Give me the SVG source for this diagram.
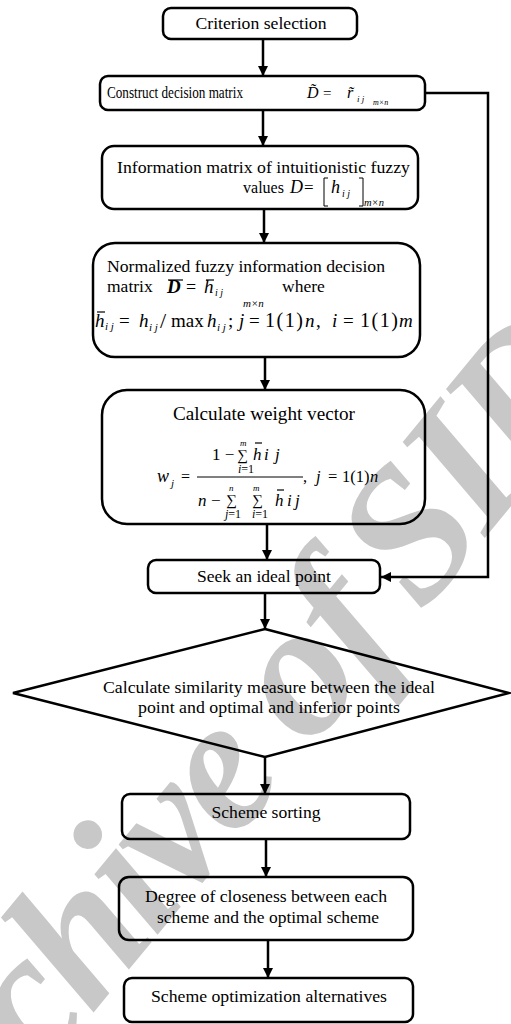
<svg xmlns="http://www.w3.org/2000/svg" width="511" height="1024" viewBox="0 0 511 1024">
<defs>
<style>
.t{font-family:"Liberation Serif","Times New Roman","DejaVu Serif",serif;fill:#000;font-size:17.5px}
.c{text-anchor:middle}
.i{font-style:italic}
.box{fill:none;stroke:#000;stroke-width:2.5}
.conn{fill:none;stroke:#000;stroke-width:2.5}
.ov{stroke:#000;stroke-width:1.2}
.br{fill:none;stroke:#000;stroke-width:1}
.wm{font-family:"Liberation Serif","Times New Roman",serif;font-weight:bold;font-style:italic;font-size:190px;letter-spacing:-6px;fill:#c8c8c8}
</style>
<marker id="ah" markerUnits="userSpaceOnUse" markerWidth="11" markerHeight="11" refX="10" refY="5" orient="auto">
<path d="M0,0 L10,5 L0,10 z" fill="#000"/>
</marker>
</defs>
<rect x="0" y="0" width="511" height="1024" fill="#fff"/>
<text class="wm" transform="translate(0,-15) rotate(2,30,990) translate(-70,1240) rotate(-52.5)">Archive of<tspan dx="30">SID</tspan></text>

<g id="connectors">
<line class="conn" x1="263" y1="39" x2="263" y2="76" marker-end="url(#ah)"/>
<line class="conn" x1="263" y1="110" x2="263" y2="146" marker-end="url(#ah)"/>
<line class="conn" x1="264" y1="209" x2="264" y2="243" marker-end="url(#ah)"/>
<line class="conn" x1="265" y1="357" x2="265" y2="390" marker-end="url(#ah)"/>
<line class="conn" x1="267" y1="524" x2="267" y2="560" marker-end="url(#ah)"/>
<line class="conn" x1="265" y1="593" x2="265" y2="629" marker-end="url(#ah)"/>
<line class="conn" x1="265" y1="757" x2="265" y2="794" marker-end="url(#ah)"/>
<line class="conn" x1="266" y1="839" x2="266" y2="877" marker-end="url(#ah)"/>
<line class="conn" x1="268" y1="940" x2="268" y2="978" marker-end="url(#ah)"/>
<polyline class="conn" points="425,93 488,93 488,577 381,577" marker-end="url(#ah)"/>
</g>

<g id="criterion">
<rect class="box" x="163" y="8" width="194" height="31" rx="8"/>
<text class="t c" x="261" y="29" textLength="131" lengthAdjust="spacingAndGlyphs">Criterion selection</text>
</g>

<g id="construct">
<rect class="box" x="100" y="76" width="325" height="34" rx="8"/>
<text class="t" x="107" y="98" style="font-size:17px" textLength="136" lengthAdjust="spacingAndGlyphs">Construct  decision matrix</text>
<text class="t i" x="307" y="98" style="font-size:16px">D&#x303;</text>
<text class="t" x="323" y="98" style="font-size:15px">=</text>
<text class="t i" x="347" y="98" style="font-size:16px">r&#x303;</text>
<text class="t i" x="357" y="102" style="font-size:9px">i j</text>
<text class="t i" x="373" y="105" style="font-size:8px">m×n</text>
</g>

<g id="info">
<rect class="box" x="102" y="146" width="316" height="63" rx="12"/>
<text class="t c" x="263.5" y="173" textLength="293" lengthAdjust="spacingAndGlyphs">Information matrix of intuitionistic fuzzy</text>
<text class="t" x="243" y="193" textLength="41" lengthAdjust="spacingAndGlyphs">values</text>
<text class="t i" x="290" y="193" style="font-size:18px">D</text>
<text class="t" x="304" y="193" style="font-size:17px">=</text>
<polyline class="br" points="328,178 324,178 324,206 328,206"/>
<text class="t i" x="331" y="193" style="font-size:18px">h</text>
<text class="t i" x="342" y="197" style="font-size:10px">i j</text>
<polyline class="br" points="359,178 363,178 363,206 359,206"/>
<text class="t i" x="364" y="206" style="font-size:10.5px">m×n</text>
</g>

<g id="normalized">
<rect class="box" x="93" y="243" width="327" height="114" rx="22"/>
<text class="t" x="107" y="272" textLength="278" lengthAdjust="spacingAndGlyphs">Normalized fuzzy information decision</text>
<text class="t" x="107" y="292">matrix</text>
<text class="t i" x="167" y="293" style="font-size:19px;font-weight:bold">D</text>
<line class="ov" x1="168" y1="280" x2="183" y2="280"/>
<text class="t" x="186" y="293" style="font-size:18px">=</text>
<text class="t i" x="204" y="293" style="font-size:19px">h</text>
<line class="ov" x1="206" y1="280" x2="214" y2="280"/>
<text class="t i" x="215" y="296" style="font-size:10px">i j</text>
<text class="t i" x="243" y="307" style="font-size:11px">m×n</text>
<text class="t" x="282" y="292">where</text>
<text class="t i" x="95" y="327" style="font-size:19px">h</text>
<line class="ov" x1="97" y1="312" x2="105" y2="312"/>
<text class="t i" x="105" y="330" style="font-size:11px">i j</text>
<text class="t" x="119" y="327" style="font-size:19px">=</text>
<text class="t i" x="139" y="327" style="font-size:19px">h</text>
<text class="t i" x="149" y="331" style="font-size:11px">i j</text>
<text class="t" x="160" y="328" style="font-size:22px">/</text>
<text class="t" x="171" y="327" style="font-size:19px">max</text>
<text class="t i" x="207" y="327" style="font-size:19px">h</text>
<text class="t i" x="217" y="331" style="font-size:11px">i j</text>
<text class="t" x="228" y="327" style="font-size:19px">;</text>
<text class="t i" x="239" y="327" style="font-size:19px">j</text>
<text class="t" x="249" y="327" style="font-size:19px">=</text>
<text class="t" x="265" y="327" style="font-size:20px;letter-spacing:1.5px">1(1)</text>
<text class="t i" x="305" y="327" style="font-size:19px">n</text>
<text class="t" x="316" y="327" style="font-size:19px">,</text>
<text class="t i" x="332" y="327" style="font-size:19px">i</text>
<text class="t" x="343" y="327" style="font-size:19px">=</text>
<text class="t" x="360" y="327" style="font-size:20px;letter-spacing:1.5px">1(1)</text>
<text class="t i" x="399" y="327" style="font-size:19px">m</text>
</g>

<g id="weight">
<rect class="box" x="102" y="390" width="323" height="134" rx="25"/>
<text class="t c" x="264" y="420" textLength="182" lengthAdjust="spacingAndGlyphs" style="font-size:19px">Calculate weight vector</text>
<text class="t" x="212" y="460" style="font-size:17px">1 −</text>
<text class="t" x="237" y="460" style="font-size:15px">∑</text>
<text class="t i" x="240" y="446" style="font-size:9px">m</text>
<text class="t" x="238" y="473" style="font-size:12px"><tspan class="i">i</tspan>=1</text>
<text class="t i" x="253" y="460" style="font-size:17px">h</text>
<line class="ov" x1="255" y1="443" x2="262" y2="443"/>
<text class="t i" x="264" y="460" style="font-size:17px">i</text>
<text class="t i" x="275" y="460" style="font-size:17px">j</text>
<line x1="197" y1="477" x2="303" y2="477" stroke="#000" stroke-width="1"/>
<text class="t i" x="157" y="482" style="font-size:18px">w</text>
<text class="t i" x="171" y="487" style="font-size:11px">j</text>
<text class="t" x="181" y="482" style="font-size:16px">=</text>
<text class="t" x="303" y="482" style="font-size:16.5px">,</text>
<text class="t i" x="316" y="482" style="font-size:16.5px">j</text>
<text class="t" x="328" y="482" style="font-size:16.5px">=</text>
<text class="t" x="342" y="482" style="font-size:16.5px">1(1)</text>
<text class="t i" x="370" y="482" style="font-size:16.5px">n</text>
<text class="t i" x="198" y="506" style="font-size:17px">n</text>
<text class="t" x="211" y="506" style="font-size:17px">−</text>
<text class="t" x="226" y="505" style="font-size:15px">∑</text>
<text class="t i" x="229" y="491" style="font-size:9px">n</text>
<text class="t" x="225" y="518" style="font-size:12px"><tspan class="i">j</tspan>=1</text>
<text class="t" x="252" y="505" style="font-size:15px">∑</text>
<text class="t i" x="253" y="491" style="font-size:9px">m</text>
<text class="t" x="252" y="518" style="font-size:12px"><tspan class="i">i</tspan>=1</text>
<text class="t i" x="275" y="506" style="font-size:17px">h</text>
<line class="ov" x1="277" y1="490" x2="284" y2="490"/>
<text class="t i" x="287" y="506" style="font-size:17px">i</text>
<text class="t i" x="295" y="506" style="font-size:17px">j</text>
</g>

<g id="seek">
<rect class="box" x="148" y="560" width="232" height="33" rx="8"/>
<text class="t c" x="264" y="582" textLength="134" lengthAdjust="spacingAndGlyphs">Seek an ideal point</text>
</g>

<g id="similarity">
<polygon class="box" points="265,629 509,693 265,757 13,693"/>
<text class="t c" x="269" y="693" textLength="332" lengthAdjust="spacingAndGlyphs">Calculate similarity measure between the ideal</text>
<text class="t c" x="269" y="713" textLength="262" lengthAdjust="spacingAndGlyphs">point and optimal and inferior points</text>
</g>

<g id="sorting">
<rect class="box" x="122" y="794" width="288" height="45" rx="8"/>
<text class="t c" x="266" y="818" textLength="109" lengthAdjust="spacingAndGlyphs">Scheme sorting</text>
</g>

<g id="degree">
<rect class="box" x="119" y="877" width="294" height="63" rx="10"/>
<text class="t c" x="266" y="902" textLength="242" lengthAdjust="spacingAndGlyphs">Degree of closeness between each</text>
<text class="t c" x="268" y="923" textLength="222" lengthAdjust="spacingAndGlyphs">scheme and the optimal scheme</text>
</g>

<g id="final">
<rect class="box" x="124" y="978" width="289" height="44" rx="8"/>
<text class="t c" x="269" y="1002" textLength="236" lengthAdjust="spacingAndGlyphs">Scheme optimization alternatives</text>
</g>
</svg>
